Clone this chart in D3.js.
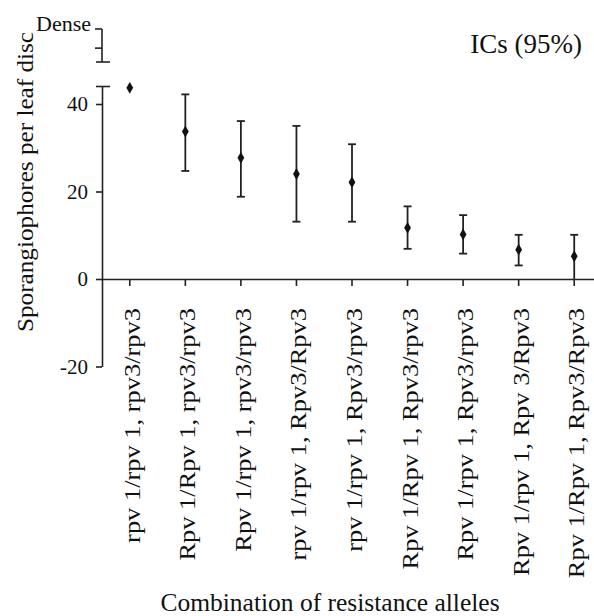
<!DOCTYPE html>
<html>
<head>
<meta charset="utf-8">
<script src="https://cdn.jsdelivr.net/npm/d3@7"></script>
<style>
  body { margin: 0; background: #fff; }
  text { font-family: "Liberation Serif", "Times New Roman", serif; fill: #111; }
</style>
</head>
<body>
<svg id="chart" width="594" height="616"></svg>
<script>
// Sporangiophores per leaf disc, means with 95% intervals
var categories = [
	"rpv 1/rpv 1, rpv3/rpv3",
	"Rpv 1/Rpv 1, rpv3/rpv3",
	"Rpv 1/rpv 1, rpv3/rpv3",
	"rpv 1/rpv 1, Rpv3/Rpv3",
	"rpv 1/rpv 1, Rpv3/rpv3",
	"Rpv 1/Rpv 1, Rpv3/rpv3",
	"Rpv 1/rpv 1, Rpv3/rpv3",
	"Rpv 1/rpv 1, Rpv 3/Rpv3",
	"Rpv 1/Rpv 1, Rpv3/Rpv3"
];
var means = [43.7, 33.7, 27.7, 24.0, 22.1, 11.7, 10.2, 6.7, 5.2];
var lower = [null, 24.7, 18.8, 13.1, 13.1, 6.9, 5.8, 3.1, 0];
var upper = [null, 42.2, 36.1, 35.0, 30.8, 16.6, 14.6, 10.1, 10.1];
var yTicks = [-20, 0, 20, 40];

var svg = d3.select('#chart');
var axisX = 102;
var lineColor = "#222";

var x = d3.scaleBand()
	.domain(categories)
	.range([axisX, 602]);
var y = d3.scaleLinear()
	.domain([-20, 44])
	.range([366.5, 86.5]);

// Main y axis
var yAxis = d3.axisLeft(y)
	.tickValues(yTicks)
	.tickSize(6)
	.tickPadding(8)
	.tickSizeOuter(0)
	.tickFormat(function(d) { return String(d); });
var yG = svg.append("g")
	.attr("transform", "translate(" + axisX + ",0)")
	.call(yAxis);
yG.select(".domain").attr("stroke", lineColor).attr("stroke-width", 1.6);
yG.selectAll(".tick line").attr("stroke", lineColor).attr("stroke-width", 1.6);
yG.selectAll(".tick text")
	.attr("fill", "#111")
	.style("font-size", "21px")
	.style("font-family", "Liberation Serif");

// break caps
svg.append("line")
	.attr("x1", axisX - 6).attr("x2", axisX + 8)
	.attr("y1", y(44)).attr("y2", y(44))
	.attr("stroke", lineColor).attr("stroke-width", 1.6);

// "Dense" segment above the break
var yDense = d3.scaleLinear().domain([0, 1]).range([62, 29]);
svg.append("line")
	.attr("x1", axisX).attr("x2", axisX)
	.attr("y1", yDense(0)).attr("y2", yDense(1))
	.attr("stroke", lineColor).attr("stroke-width", 1.6);
svg.append("line")
	.attr("x1", axisX - 6).attr("x2", axisX + 8)
	.attr("y1", yDense(0)).attr("y2", yDense(0))
	.attr("stroke", lineColor).attr("stroke-width", 1.6);
svg.selectAll(".denseTick")
	.data([0.42, 1])
	.enter()
	.append("line")
	.attr("x1", axisX - 7).attr("x2", axisX)
	.attr("y1", function(d) { return yDense(d); })
	.attr("y2", function(d) { return yDense(d); })
	.attr("stroke", lineColor).attr("stroke-width", 1.6);
svg.append("text")
	.attr("x", 91)
	.attr("y", 31)
	.attr("text-anchor", "end")
	.style("font-size", "22px")
	.text("Dense");

// x axis at zero
var xAxis = d3.axisBottom(x)
	.tickSize(7)
	.tickFormat("")
	.tickSizeOuter(0);
var xG = svg.append("g")
	.attr("transform", "translate(0," + y(0) + ")")
	.call(xAxis);
xG.select(".domain").attr("stroke", lineColor).attr("stroke-width", 1.6);
xG.selectAll(".tick line").attr("stroke", lineColor).attr("stroke-width", 1.6);

// rotated category labels
svg.append("g").selectAll("text")
	.data(categories)
	.enter()
	.append("text")
	.attr("transform", function(d) {
		return "translate(" + (x(d) + x.bandwidth() / 2 + 10) + ",308) rotate(-90) scale(1.15,1)";
	})
	.attr("text-anchor", "end")
	.style("font-size", "23px")
	.text(function(d) { return d; });

// error bars
var capHalf = 4;
var bars = svg.append("g");
categories.forEach(function(c, i) {
	if (lower[i] === null) return;
	var cx = x(c) + x.bandwidth() / 2;
	bars.append("line")
		.attr("x1", cx).attr("x2", cx)
		.attr("y1", y(lower[i])).attr("y2", y(upper[i]))
		.attr("stroke", lineColor).attr("stroke-width", 1.8);
	[lower[i], upper[i]].forEach(function(v) {
		if (v === 0) return;
		bars.append("line")
			.attr("x1", cx - capHalf).attr("x2", cx + capHalf)
			.attr("y1", y(v)).attr("y2", y(v))
			.attr("stroke", lineColor).attr("stroke-width", 1.8);
	});
});

// mean points
svg.append("g").selectAll("path")
	.data(categories)
	.enter()
	.append("path")
	.attr("transform", function(d, i) {
		return "translate(" + (x(d) + x.bandwidth() / 2) + "," + y(means[i]) + ")";
	})
	.attr("d", d3.symbol().type(d3.symbolDiamond).size(40))
	.attr("fill", "#111");

// titles
svg.append("text")
	.attr("transform", "translate(33,182) rotate(-90)")
	.attr("text-anchor", "middle")
	.attr("textLength", 300)
	.attr("lengthAdjust", "spacingAndGlyphs")
	.style("font-size", "24px")
	.text("Sporangiophores per leaf disc");
svg.append("text")
	.attr("x", 582)
	.attr("y", 53)
	.attr("text-anchor", "end")
	.style("font-size", "27px")
	.text("ICs (95%)");
svg.append("text")
	.attr("x", 330)
	.attr("y", 611)
	.attr("text-anchor", "middle")
	.style("font-size", "25.5px")
	.text("Combination of resistance alleles");
</script>
</body>
</html>
